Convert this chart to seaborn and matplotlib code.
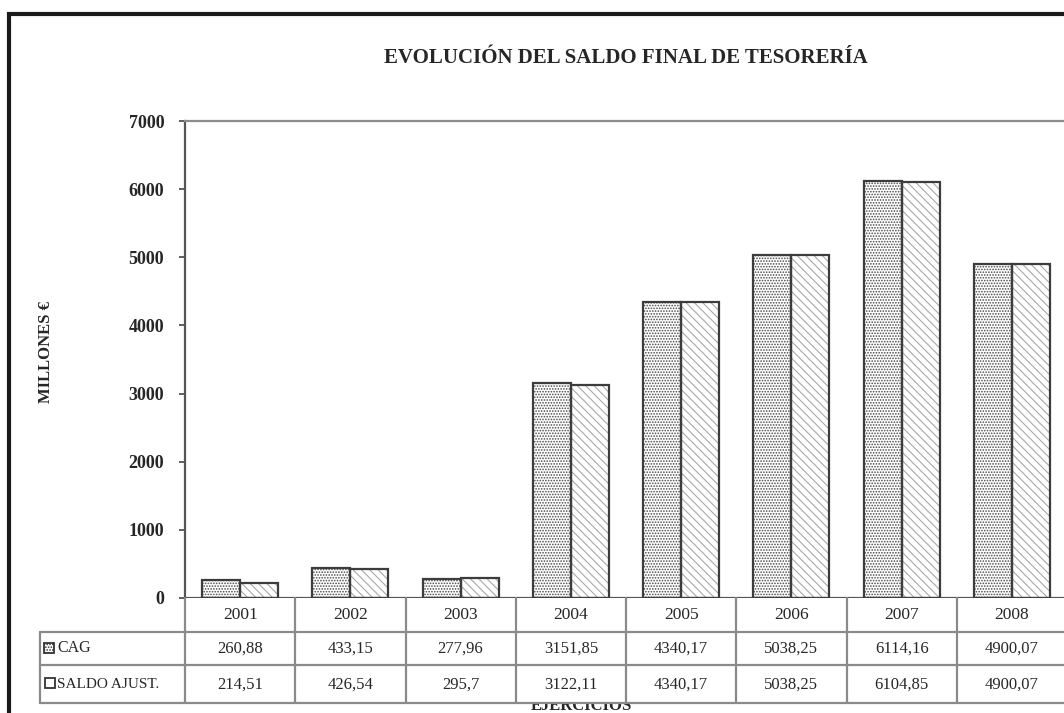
import matplotlib
matplotlib.use('Agg')
import matplotlib.pyplot as plt
import matplotlib.transforms as mtransforms
from matplotlib.patches import Rectangle
from matplotlib.lines import Line2D
import seaborn as sns
import pandas as pd

# ---------------- data ----------------
years = ['2001', '2002', '2003', '2004', '2005', '2006', '2007', '2008']
cag = [260.88, 433.15, 277.96, 3151.85, 4340.17, 5038.25, 6114.16, 4900.07]
saldo = [214.51, 426.54, 295.7, 3122.11, 4340.17, 5038.25, 6104.85, 4900.07]
series = ['CAG', 'SALDO AJUST.']
yticks = [0, 1000, 2000, 3000, 4000, 5000, 6000, 7000]
title = 'EVOLUCIÓN DEL SALDO FINAL DE TESORERÍA'
ylabel = 'MILLONES €'
xlabel = 'EJERCICIOS'

# ---------------- style ----------------
sns.set_theme(style='white')
plt.rcParams['font.family'] = ['Liberation Serif', 'DejaVu Serif']
plt.rcParams['hatch.linewidth'] = 0.8

W, H = 1064, 713
fig = plt.figure(figsize=(W / 100, H / 100), dpi=100)
fig.patch.set_facecolor('white')


def fx(px):
    return px / W


def fy(py):
    return 1 - py / H


ax = fig.add_axes([fx(185), fy(598), fx(1067) - fx(185), fy(121) - fy(598)])
ax.set_facecolor('white')

df = pd.DataFrame({
    'year': years * 2,
    'value': cag + saldo,
    'serie': [series[0]] * len(years) + [series[1]] * len(years),
})
sns.barplot(data=df, x='year', y='value', hue='serie', order=years,
            hue_order=series, palette=['white', 'white'], saturation=1,
            width=0.69, legend=False, ax=ax, zorder=2)

styles = [dict(hatch='......', ec='#4a4a4a'), dict(hatch='\\\\\\\\', ec='#a8a8a8')]
for cont, st in zip(ax.containers, styles):
    for p in cont:
        p.set_hatch(st['hatch'])
        p.set_edgecolor(st['ec'])
        p.set_linewidth(0.3)
        ax.add_patch(Rectangle(p.get_xy(), p.get_width(), p.get_height(),
                               fill=False, ec='#3c3c3c', lw=1.6, zorder=3))

ax.set_xlim(-0.5, len(years) - 0.5)
ax.set_ylim(yticks[0], yticks[-1])
ax.set_yticks(yticks)
ax.set_yticklabels([str(t) for t in yticks], fontweight='bold')
ax.set_xticks([])
ax.set_xlabel('')
ax.set_ylabel('')
ax.tick_params(axis='y', direction='out', length=4, width=1.2, color='#444444',
               pad=11, labelsize=13, left=True)
for s in ['left', 'bottom']:
    ax.spines[s].set_color('#555555')
    ax.spines[s].set_linewidth(1.6)
for s in ['top', 'right']:
    ax.spines[s].set_color('#8c8c8c')
    ax.spines[s].set_linewidth(1.6)

# ---------------- data table ----------------
bt = mtransforms.blended_transform_factory(ax.transData, fig.transFigure)
gc = '#8a8a8a'
glw = 1.6
n = len(years)
# white cells (cover x axis title partially, as in the original)
fig.add_artist(Rectangle((fx(40), fy(703)), 1 - fx(40), fy(632) - fy(703),
                         transform=fig.transFigure, fc='white', ec='none', zorder=4))
fig.add_artist(Rectangle((fx(185), fy(632)), 1 - fx(185), fy(598) - fy(632),
                         transform=fig.transFigure, fc='white', ec='none', zorder=4))
for i in range(n + 1):
    fig.add_artist(Line2D([i - 0.5, i - 0.5], [fy(598), fy(703)], transform=bt,
                          color=gc, lw=glw, zorder=5))
for yy in [632, 665, 703]:
    fig.add_artist(Line2D([fx(40), 1], [fy(yy), fy(yy)], transform=fig.transFigure,
                          color=gc, lw=glw, zorder=5))
fig.add_artist(Line2D([fx(40), fx(40)], [fy(632), fy(703)], transform=fig.transFigure,
                      color=gc, lw=glw, zorder=5))


def fmt(v):
    return f'{v}'.replace('.', ',')


for i, yr in enumerate(years):
    fig.text(i, fy(615), yr, transform=bt, ha='center', va='center',
             fontsize=12.5, zorder=6)
    fig.text(i, fy(649), fmt(cag[i]), transform=bt, ha='center', va='center',
             fontsize=12, zorder=6)
    fig.text(i, fy(685), fmt(saldo[i]), transform=bt, ha='center', va='center',
             fontsize=12, zorder=6)

# legend keys + row labels
fig.add_artist(Rectangle((fx(44), fy(653)), fx(10), 10 / H, transform=fig.transFigure,
                         fc='white', ec='#333333', lw=1.3, hatch='......', zorder=6))
fig.add_artist(Rectangle((fx(45), fy(688)), fx(10), 10 / H, transform=fig.transFigure,
                         fc='white', ec='#333333', lw=1.3, zorder=6))
fig.text(fx(57), fy(648), series[0], ha='left', va='center', fontsize=11.5, zorder=6)
fig.text(fx(57), fy(684), series[1], ha='left', va='center', fontsize=11, zorder=6)

# axis titles
fig.text(fx(581), fy(706), xlabel, ha='center', va='center', fontsize=12,
         fontweight='bold', zorder=3)
fig.text(fx(46), fy(352), ylabel, rotation=90, ha='center', va='center',
         fontsize=12, fontweight='bold')
fig.text(fx(626), fy(58), title, ha='center', va='center', fontsize=15,
         fontweight='bold')

# outer chart frame (cropped at right and bottom)
fig.add_artist(Line2D([fx(9), fx(9), 1.01], [-0.01, fy(14), fy(14)],
                      transform=fig.transFigure, color='#1a1a1a', lw=3,
                      solid_joinstyle='miter'))

fig.savefig('out.png', dpi=100, facecolor='white')
